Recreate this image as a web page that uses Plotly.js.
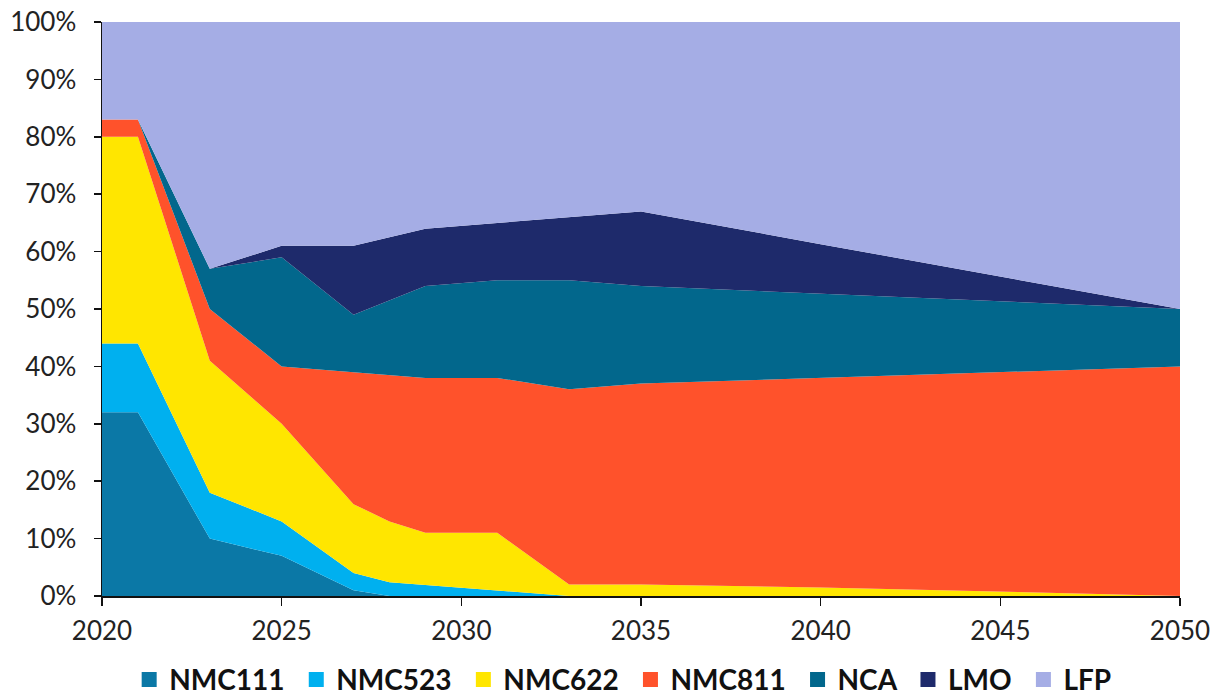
<!DOCTYPE html>
<html>
<head>
<meta charset="utf-8">
<script src="https://cdn.plot.ly/plotly-3.0.1.min.js"></script>
<style>
  html, body { margin: 0; padding: 0; background: #ffffff; }
  #chart { width: 1222px; height: 698px; }
</style>
</head>
<body>
<div id="chart"></div>
<script>
// Cathode chemistry market share, % of total
const years  = [2020, 2021, 2023, 2025, 2027, 2028, 2029, 2031, 2033, 2035, 2040, 2045, 2050];
const nmc111 = [32, 32, 10, 7, 1, 0, 0, 0, 0, 0, 0, 0, 0];
const nmc523 = [12, 12, 8, 6, 3, 2.4, 1.9, 1, 0, 0, 0, 0, 0];
const nmc622 = [36, 36, 23, 17, 12, 10.6, 9.1, 10, 2, 2, 1.5, 0.8, 0];
const nmc811 = [3, 3, 9, 10, 23, 25.5, 27, 27, 34, 35, 36.5, 38.2, 40];
const nca    = [0, 0, 7, 19, 10, 13, 16, 17, 19, 17, 14.7, 12.3, 10];
const lmo    = [0, 0, 0, 2, 12, 11, 10, 10, 11, 13, 8.6, 4.4, 0];
const lfp    = [17, 17, 43, 39, 39, 37.5, 36, 35, 34, 33, 38.7, 44.3, 50];

const xTicks = [2020, 2025, 2030, 2035, 2040, 2045, 2050];
const yTicks = [0, 10, 20, 30, 40, 50, 60, 70, 80, 90, 100];
const yTickText = yTicks.map(v => v + '%');

const seriesNames = ['NMC111', 'NMC523', 'NMC622', 'NMC811', 'NCA', 'LMO', 'LFP'];
const seriesColors = ['#0b78a6', '#00b0ef', '#ffe600', '#ff522b', '#02678c', '#1e2a6b', '#a5ade5'];
const seriesValues = [nmc111, nmc523, nmc622, nmc811, nca, lmo, lfp];

const traces = [];
// stacked areas
seriesValues.forEach((vals, i) => {
  traces.push({
    x: years,
    y: vals,
    name: seriesNames[i],
    type: 'scatter',
    mode: 'lines',
    stackgroup: 'share',
    line: { width: 0, color: seriesColors[i] },
    fillcolor: seriesColors[i],
    showlegend: false,
    hoverinfo: 'x+y+name'
  });
});
// square legend keys (a trailing no-break space widens the gap between entries)
seriesNames.forEach((name, i) => {
  traces.push({
    x: [null],
    y: [null],
    name: i < seriesNames.length - 1 ? name + '\u00a0' : name,
    type: 'scatter',
    mode: 'markers',
    marker: { symbol: 'square', size: 15, color: seriesColors[i] },
    showlegend: true,
    hoverinfo: 'skip'
  });
});

const tickFont = { family: 'Lato, "Open Sans", sans-serif', size: 26, color: '#222222' };

const layout = {
  width: 1222,
  height: 698,
  margin: { l: 102, r: 42, t: 22, b: 102, autoexpand: false },
  paper_bgcolor: '#ffffff',
  plot_bgcolor: '#ffffff',
  showlegend: true,
  xaxis: {
    range: [2020, 2050],
    tickvals: xTicks,
    ticks: 'outside',
    ticklen: 8,
    tickwidth: 1.5,
    tickcolor: '#111111',
    showline: true,
    linecolor: '#111111',
    linewidth: 1.5,
    showgrid: false,
    zeroline: false,
    tickfont: tickFont,
    ticklabelstandoff: 3,
    automargin: false,
    fixedrange: true
  },
  yaxis: {
    range: [0, 100],
    tickvals: yTicks,
    ticktext: yTickText,
    ticks: 'outside',
    ticklen: 7,
    tickwidth: 1.5,
    tickcolor: '#111111',
    showline: true,
    linecolor: '#111111',
    linewidth: 1.5,
    showgrid: false,
    zeroline: false,
    tickfont: tickFont,
    ticklabelstandoff: 12,
    automargin: false,
    fixedrange: true
  },
  legend: {
    orientation: 'h',
    x: 0.483,
    xanchor: 'center',
    y: -0.146,
    yanchor: 'middle',
    font: { family: 'Lato, "Open Sans", sans-serif', size: 28, color: '#111111', weight: 'bold' },
    itemwidth: 30,
    traceorder: 'normal',
    bgcolor: 'rgba(0,0,0,0)'
  }
};

Plotly.newPlot('chart', traces, layout, { displayModeBar: false, staticPlot: true });
</script>
</body>
</html>
